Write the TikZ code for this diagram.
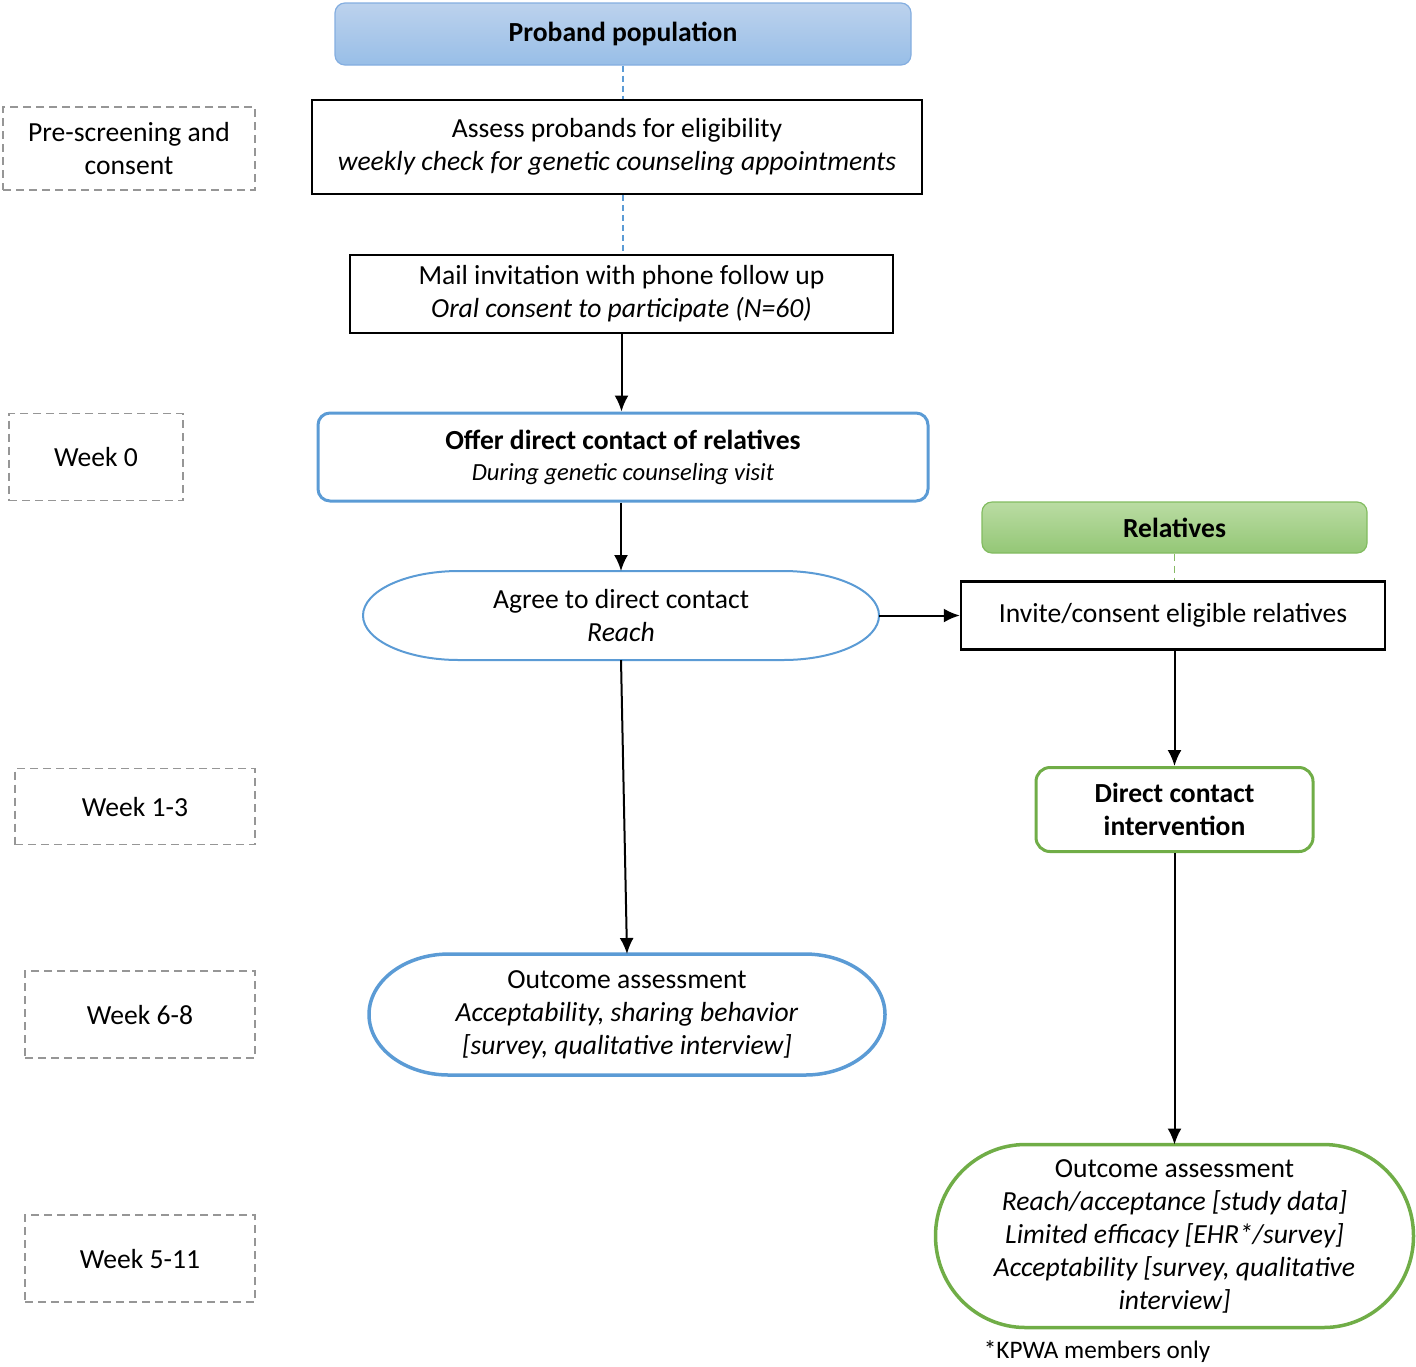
\documentclass[tikz,border=0pt]{standalone}
\usepackage{fontspec}
\setmainfont{Carlito}
\usepackage{tikz}
\usetikzlibrary{shapes,arrows.meta,positioning}
\definecolor{offerblue}{RGB}{91,155,213}
\definecolor{headbluetop}{RGB}{188,210,237}
\definecolor{headbluebot}{RGB}{152,190,231}
\definecolor{headblueline}{RGB}{132,174,224}
\definecolor{intgreen}{RGB}{112,173,71}
\definecolor{headgreentop}{RGB}{186,220,163}
\definecolor{headgreenbot}{RGB}{148,199,118}
\definecolor{headgreenline}{RGB}{130,188,96}
\definecolor{phasegray}{RGB}{150,150,150}
\tikzstyle{line} = [draw, line width=1pt, -{Latex[length=8pt,width=7pt]}]
\tikzstyle{link_blue} = [draw=offerblue, dashed, line width=0.7pt, dash pattern=on 3pt off 2pt]
\tikzstyle{link_green} = [draw=intgreen!85, dashed, line width=0.8pt, dash pattern=on 3.5pt off 2.5pt]
\tikzstyle{head_blue} = [rectangle, rounded corners=5pt, draw=headblueline, line width=0.6pt, top color=headbluetop, bottom color=headbluebot, minimum width=288pt, minimum height=31pt, font=\bfseries]
\tikzstyle{head_green} = [rectangle, rounded corners=5pt, draw=headgreenline, line width=0.6pt, top color=headgreentop, bottom color=headgreenbot, minimum width=192.5pt, minimum height=25.5pt, font=\bfseries]
\tikzstyle{stepbox} = [rectangle, draw, line width=1.25pt, align=center, text centered]
\tikzstyle{offerbox} = [rectangle, rounded corners=6pt, draw=offerblue, line width=1.5pt, align=center, minimum width=305pt, minimum height=44pt]
\tikzstyle{intervbox} = [rectangle, rounded corners=7pt, draw=intgreen, line width=1.5pt, align=center, minimum width=138.5pt, minimum height=42pt, font=\bfseries]
\tikzstyle{capsule} = [rectangle, align=center, outer sep=0pt]
\tikzstyle{capblue} = [draw=offerblue, line width=1pt]
\tikzstyle{capblue_thick} = [draw=offerblue, line width=1.75pt]
\tikzstyle{capgreen} = [draw=intgreen, line width=1.75pt]
\tikzstyle{phase} = [rectangle, draw=phasegray, line width=0.6pt, dash pattern=on 4pt off 2.5pt, align=center]
\newcommand{\capsule}[4]{\draw[#1] ([xshift=#3]#2.north west) -- ([xshift=-#3]#2.north east) arc[start angle=90, end angle=-90, x radius=#3, y radius=#4] -- ([xshift=#3]#2.south west) arc[start angle=270, end angle=90, x radius=#3, y radius=#4] -- cycle;}

\begin{document}
\fontsize{13.8}{16.5}\selectfont
\begin{tikzpicture}[x=0.5pt, y=0.5pt]
\useasboundingbox (0,0) rectangle (1416,-1366);

\node [head_blue] (proband) at (623,-34) {Proband population};
\node [stepbox, below of = proband, node distance = 56.5pt, xshift = -3pt, minimum width = 305pt, minimum height = 47pt] (assess) {Assess probands for eligibility\\\textit{weekly check for genetic counseling appointments}};
\node [stepbox, below of = assess, node distance = 73.5pt, xshift = 2.25pt, minimum width = 271.5pt, minimum height = 39pt] (mail) {Mail invitation with phone follow up\\\textit{Oral consent to participate (N=60)}};
\node [offerbox, below of = mail, node distance = 81.5pt, xshift = 0.75pt] (offer) {\textbf{Offer direct contact of relatives}\\[-1pt]{\fontsize{12.3}{15}\selectfont\itshape During genetic counseling visit}};
\node [capsule, below of = offer, node distance = 79.25pt, xshift = -1pt, minimum width = 258pt, minimum height = 44.5pt] (agree) {Agree to direct contact\\\textit{Reach}};
\node [capsule, below of = agree, node distance = 199.5pt, xshift = 3pt, minimum width = 258pt, minimum height = 60.5pt] (outL) {Outcome assessment\\\textit{Acceptability, sharing behavior}\\\textit{[survey, qualitative interview]}};

\node [stepbox, right of = agree, node distance = 276pt, minimum width = 212pt, minimum height = 34pt] (invite) {Invite/consent eligible relatives};
\node [head_green, above of = invite, node distance = 44pt, xshift = 0.75pt] (relatives) {Relatives};
\node [intervbox, below of = invite, node distance = 97pt, xshift = 0.75pt] (interv) {Direct contact\\intervention};
\node [capsule, below of = interv, node distance = 213.25pt, minimum width = 239pt, minimum height = 91.5pt] (outR) {Outcome assessment\\\textit{Reach/acceptance [study data]}\\\textit{Limited efficacy [EHR*/survey]}\\\textit{Acceptability [survey, qualitative}\\\textit{interview]}};
\node [anchor = west, inner sep = 0pt, font = \fontsize{12.6}{15}\selectfont] (note) at ([xshift = 24pt, yshift = -12pt]outR.south west) {*KPWA members only};

\node [phase, left of = assess, node distance = 244pt, yshift = -0.75pt, minimum width = 126pt, minimum height = 41.5pt] (prescreen) {Pre-screening and\\consent};
\node [phase, left of = offer, node distance = 263.5pt, minimum width = 87pt, minimum height = 43.5pt] (week0) {Week 0};
\node [phase, left of = interv, node distance = 519.75pt, yshift = 1.5pt, minimum width = 120pt, minimum height = 38pt] (week13) {Week 1-3};
\node [phase, left of = outL, node distance = 243.5pt, minimum width = 115pt, minimum height = 43.5pt] (week68) {Week 6-8};
\node [phase, below of = week68, node distance = 122pt, minimum width = 115pt, minimum height = 43.5pt] (week511) {Week 5-11};

\capsule{capblue}{agree}{48pt}{22.25pt}
\capsule{capblue_thick}{outL}{40pt}{30.25pt}
\capsule{capgreen}{outR}{45pt}{45.75pt}

\path [link_blue] (proband.south) to (proband.south |- assess.north);
\path [link_blue] (assess.south -| proband.south) to (mail.north -| proband.south);
\path [link_green] (relatives.south) to (relatives.south |- invite.north);
\path [line] (mail.south) to (mail.south |- offer.north);
\path [line] (agree.north |- offer.south) to (agree.north);
\path [line] (agree.south) to (outL.north);
\path [line] (agree.east) to (invite.west);
\path [line] (interv.north |- invite.south) to (interv.north);
\path [line] (interv.south) to (outR.north);

\end{tikzpicture}
\end{document}
